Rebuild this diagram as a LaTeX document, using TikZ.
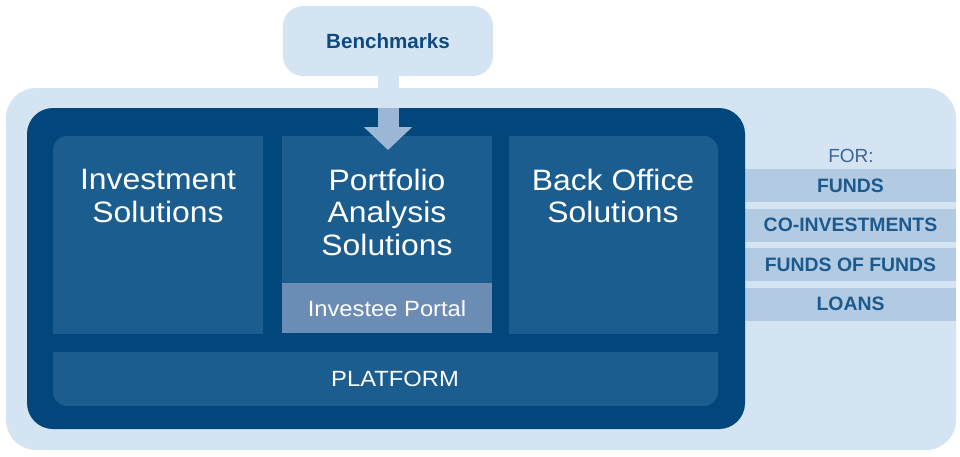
\documentclass[tikz,border=0pt]{standalone}
\usepackage{fontspec}
\setmainfont{Liberation Sans}
\newfontfamily\widesf[FakeStretch=1.08]{Liberation Sans}
\usetikzlibrary{arrows.meta}
\definecolor{paleblue}{HTML}{D4E4F3}
\definecolor{navy}{HTML}{02477B}
\definecolor{panelblue}{HTML}{1B5D8F}
\definecolor{portalblue}{HTML}{6A8CB5}
\definecolor{bandblue}{HTML}{B3CBE2}
\definecolor{arrowblue}{HTML}{9CB6D6}
\definecolor{textblue}{HTML}{1C5A8E}
\definecolor{benchblue}{HTML}{0E4A80}
\definecolor{forblue}{HTML}{3E6893}
\tikzset{
  title/.style={text=white, align=center, inner sep=0pt, font=\widesf\fontsize{29.5}{32.5}\selectfont},
  smalltxt/.style={text=white, inner sep=0pt, font=\widesf\fontsize{22}{24}\selectfont},
  band/.style={fill=bandblue, text=textblue, minimum width=211pt, minimum height=33pt, inner sep=0pt, font=\bfseries\fontsize{19.4}{21}\selectfont},
  fortxt/.style={text=forblue, inner sep=0pt, font=\fontsize{19}{21}\selectfont},
  bigarrow/.style={line width=21pt, -{Triangle[width=47pt,length=23pt]}, draw=paleblue}
}
\begin{document}
\begin{tikzpicture}[x=1pt,y=-1pt]
\useasboundingbox (0,0) rectangle (960,456);
\fill[paleblue, rounded corners=30pt] (6,88) rectangle (956,450);
\node[fill=paleblue, rounded corners=20pt, minimum width=210pt, minimum height=70pt, text=benchblue, font=\bfseries\fontsize{20.6}{23}\selectfont] (bench) at (388,41) {Benchmarks};
\coordinate (tip) at (388,150);
\draw[bigarrow] (bench.south) -- (tip);
\node[fortxt, anchor=base] (for) at (851,162.7) {FOR:};
\foreach \t [count=\i] in {FUNDS, CO-INVESTMENTS, FUNDS OF FUNDS, LOANS}
  \node[band] (b\i) at (850.5,146.5+39.4*\i) {\t};
\fill[navy, rounded corners=26pt] (27,108) rectangle (745,429);
\begin{scope}
  \clip (53,136) rectangle (263,333);
  \fill[panelblue, rounded corners=14pt] (53,136) rectangle (290,360);
\end{scope}
\fill[panelblue] (282,136) rectangle (492,283);
\fill[portalblue] (282,283) rectangle (492,333);
\begin{scope}
  \clip (509,136) rectangle (718,333);
  \fill[panelblue, rounded corners=14pt] (480,136) rectangle (718,360);
\end{scope}
\begin{scope}
  \clip (53,352) rectangle (718,406);
  \fill[panelblue, rounded corners=14pt] (53,320) rectangle (718,406);
\end{scope}
\begin{scope}
  \clip (27,108) rectangle (745,429);
  \draw[bigarrow, draw=arrowblue] (bench.south) -- (tip);
\end{scope}
\node[title] (inv) at (158,196) {Investment\\Solutions};
\node[title] (pas) at (387,212) {Portfolio\\Analysis\\Solutions};
\node[title] (bos) at (613,196) {Back Office\\Solutions};
\node[smalltxt, anchor=base] (portal) at (387,316.7) {Investee Portal};
\node[smalltxt, anchor=base] (plat) at (395,386.7) {PLATFORM};
\end{tikzpicture}
\end{document}
